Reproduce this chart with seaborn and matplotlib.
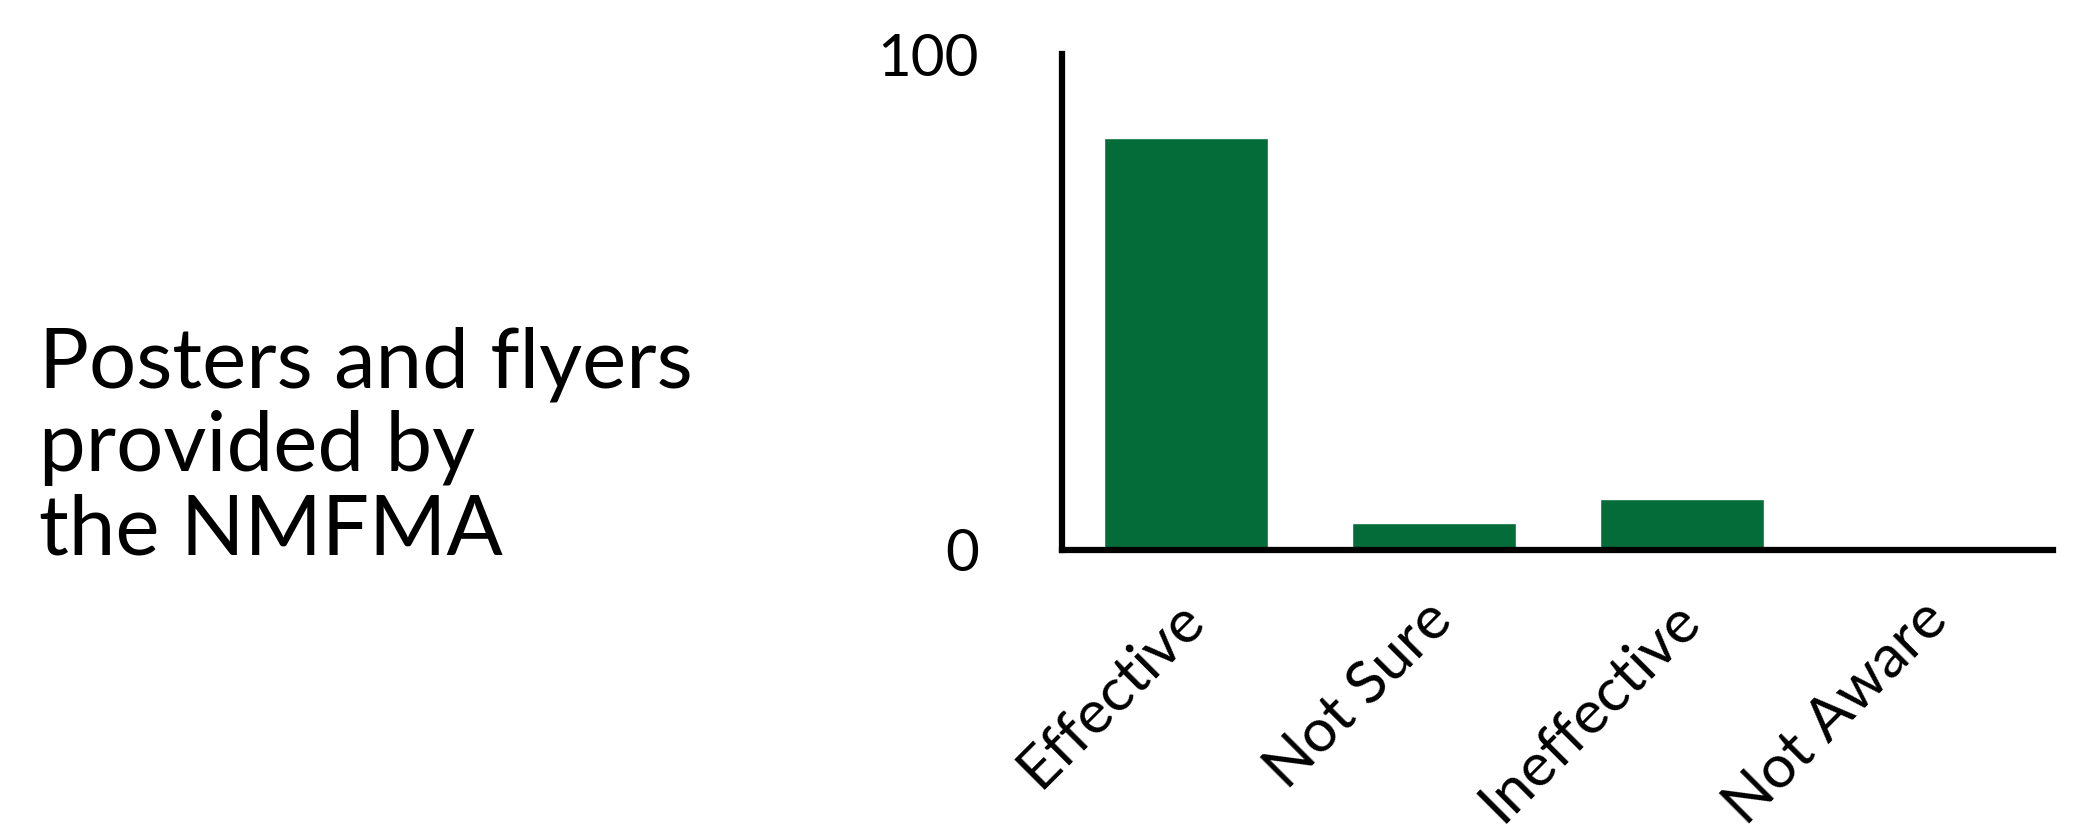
import matplotlib
matplotlib.use("Agg")
import matplotlib.pyplot as plt
import matplotlib.transforms as mtransforms
import seaborn as sns
import pandas as pd

# data
categories = ["Effective", "Not Sure", "Ineffective", "Not Aware"]
values = [83, 5.5, 10.3, 0]
y_ticks = [0, 100]
title = "Posters and flyers\nprovided by\nthe NMFMA"

BAR_COLOR = "#036c39"

sns.set_theme(style="white")
plt.rcParams["font.family"] = ["Lato", "DejaVu Sans"]
plt.rcParams["text.color"] = "black"
plt.rcParams["xtick.color"] = "black"
plt.rcParams["ytick.color"] = "black"

df = pd.DataFrame({"category": categories, "value": values})

fig = plt.figure(figsize=(20.89, 8.33), dpi=100)
ax = fig.add_axes([0.5085, 0.340, 0.4745, 0.595])

sns.barplot(data=df, x="category", y="value", color=BAR_COLOR,
            width=0.66, saturation=1, ax=ax)

ax.set_xlim(-0.5, 3.5)
ax.set_ylim(0, 100)
ax.set_yticks(y_ticks)
ax.set_yticklabels([str(t) for t in y_ticks], fontsize=42, color="black")
ax.set_xlabel("")
ax.set_ylabel("")
ax.tick_params(axis="both", length=0)
ax.tick_params(axis="y", pad=60)
ax.tick_params(axis="x", pad=30)

# nudge rotated labels a little to the left
shift = mtransforms.ScaledTranslation(-10 / 100, 0, fig.dpi_scale_trans)
for lbl in ax.get_xticklabels():
    lbl.set_rotation(45)
    lbl.set_ha("right")
    lbl.set_rotation_mode("anchor")
    lbl.set_fontsize(43.5)
    lbl.set_color("black")
    lbl.set_transform(lbl.get_transform() + shift)

sns.despine(ax=ax)
for side in ["left", "bottom"]:
    ax.spines[side].set_linewidth(4.5)
    ax.spines[side].set_color("black")

fig.text(0.0187, 0.462, title, fontsize=60, ha="left", va="center",
         linespacing=1.12, color="black")

fig.savefig("out.png", dpi=100, facecolor="white")
